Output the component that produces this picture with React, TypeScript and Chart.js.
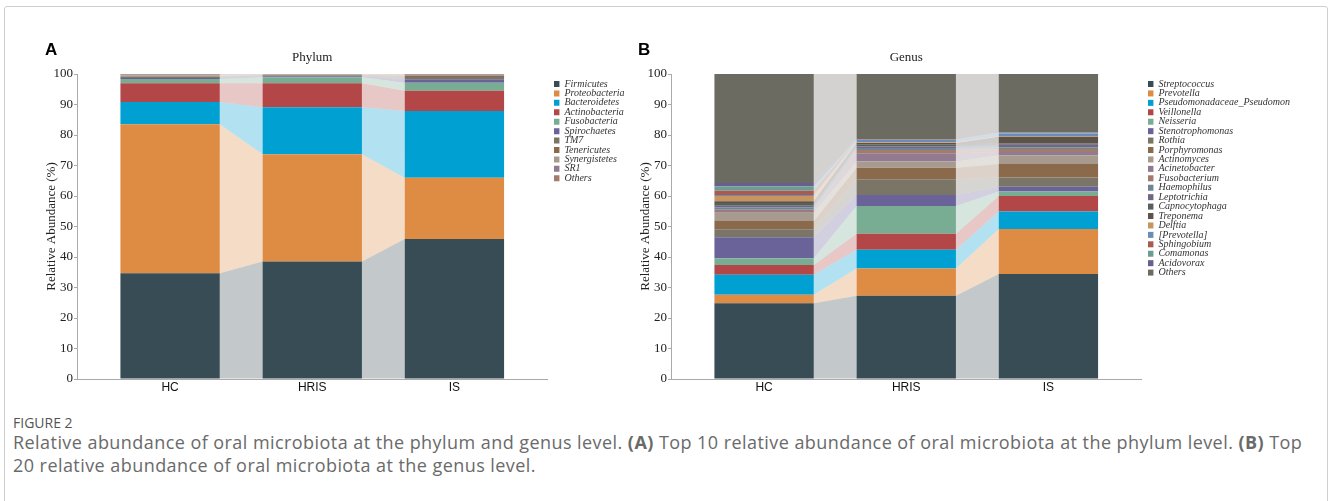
import React, { useEffect, useRef } from 'react';
import { Chart, registerables } from 'chart.js';

Chart.register(...registerables);

const groups = ['HC', 'HRIS', 'IS'];
const yTickValues = [0, 10, 20, 30, 40, 50, 60, 70, 80, 90, 100];

const phylumNames = ['Firmicutes', 'Proteobacteria', 'Bacteroidetes', 'Actinobacteria', 'Fusobacteria', 'Spirochaetes', 'TM7', 'Tenericutes', 'Synergistetes', 'SR1', 'Others'];
const phylumHC = [34.7, 48.8, 7.3, 6.2, 1.4, 0.3, 0.4, 0.2, 0.3, 0.2, 0.2];
const phylumHRIS = [38.5, 35.2, 15.4, 7.9, 1.9, 0.4, 0.2, 0.2, 0.1, 0.1, 0.1];
const phylumIS = [45.9, 20.1, 21.9, 6.6, 2.6, 1.2, 0.7, 0.5, 0.2, 0.1, 0.2];
const phylumColors = ['#374c54', '#de8b43', '#00a0d3', '#b34747', '#78ad94', '#6a6399', '#7b7567', '#8b6a4c', '#a79b90', '#927b90', '#a47a68'];

const genusNames = ['Streptococcus', 'Prevotella', 'Pseudomonadaceae_Pseudomon', 'Veillonella', 'Neisseria', 'Stenotrophomonas', 'Rothia', 'Porphyromonas', 'Actinomyces', 'Acinetobacter', 'Fusobacterium', 'Haemophilus', 'Leptotrichia', 'Capnocytophaga', 'Treponema', 'Delftia', '[Prevotella]', 'Sphingobium', 'Comamonas', 'Acidovorax', 'Others'];
const genusHC = [24.8, 2.8, 6.6, 3.2, 2.2, 6.9, 2.6, 2.7, 2.7, 0.6, 0.4, 0.8, 0.5, 0.9, 0.6, 1.7, 0.3, 1.4, 1.5, 1.1, 35.7];
const genusHRIS = [27.3, 8.9, 6.2, 5.2, 9.1, 3.6, 5.2, 3.8, 2.0, 2.7, 1.1, 0.6, 0.5, 0.8, 0.4, 0.2, 0.8, 0.05, 0.05, 0.05, 21.45];
const genusIS = [34.4, 14.8, 5.7, 5.1, 1.5, 1.5, 3.1, 4.4, 2.9, 1.0, 1.0, 0.6, 0.8, 0.4, 2.2, 0.2, 0.9, 0.1, 0.1, 0.2, 19.1];
const genusColors = ['#374c54', '#de8b43', '#00a0d3', '#b34747', '#78ad94', '#6a6399', '#7b7567', '#8b6a4c', '#a79b90', '#927b90', '#a47a68', '#6d8595', '#716684', '#58605e', '#5e5348', '#c8955f', '#6b8cb8', '#a95b50', '#6e9c95', '#665f8f', '#6c6b62'];

function hexToRgba(hex: string, a: number) {
  const n = parseInt(hex.slice(1), 16);
  return `rgba(${(n >> 16) & 255},${(n >> 8) & 255},${n & 255},${a})`;
}

const ribbonPlugin = {
  id: 'ribbons',
  beforeDatasetsDraw(chart: any) {
    const ctx = chart.ctx;
    ctx.save();
    chart.data.datasets.forEach((ds: any, i: number) => {
      const meta = chart.getDatasetMeta(i);
      const els = meta.data;
      ctx.fillStyle = hexToRgba(ds.backgroundColor, 0.3);
      for (let j = 0; j < els.length - 1; j++) {
        const a = els[j].getProps(['x', 'y', 'base', 'width'], true);
        const b = els[j + 1].getProps(['x', 'y', 'base', 'width'], true);
        const ax = a.x + a.width / 2;
        const bx = b.x - b.width / 2;
        ctx.beginPath();
        ctx.moveTo(ax, a.y);
        ctx.lineTo(bx, b.y);
        ctx.lineTo(bx, b.base);
        ctx.lineTo(ax, a.base);
        ctx.closePath();
        ctx.fill();
      }
    });
    ctx.restore();
  },
};

const PLOT_RIGHT = 547.5;
const LEGEND_GAP = 6.5;

function buildChart(canvas: HTMLCanvasElement, canvasW: number, title: string, names: string[], colors: string[], values: number[][]) {
  const datasets = names.map((name, i) => ({
    label: name,
    data: values.map((arr, j) => ({ x: j, y: arr[i] })),
    backgroundColor: colors[i],
    borderWidth: 0,
    barPercentage: 0.699,
    categoryPercentage: 1,
  }));
  return new Chart(canvas, {
    type: 'bar',
    data: { datasets } as any,
    plugins: [ribbonPlugin],
    options: {
      responsive: false,
      animation: false,
      devicePixelRatio: 1,
      layout: { padding: { left: 44, top: 0, right: 0, bottom: 0 } },
      scales: {
        x: {
          type: 'linear',
          stacked: true,
          min: -0.655,
          max: 2.655,
          offset: false,
          afterBuildTicks: (s: any) => { s.ticks = groups.map((_, i) => ({ value: i })); },
          ticks: {
            callback: (v: any) => groups[v] ?? '',
            color: '#111',
            padding: 1,
            maxRotation: 0,
            autoSkip: false,
            font: { family: 'Liberation Sans', size: 12 },
          },
          grid: { display: false, drawTicks: false },
          border: { display: true, color: '#aaa', width: 1 },
          afterFit: (s: any) => { s.height = 21; },
        },
        y: {
          type: 'linear',
          stacked: true,
          min: 0,
          max: 100,
          afterBuildTicks: (s: any) => { s.ticks = yTickValues.map((v) => ({ value: v })); },
          ticks: { color: '#222', padding: 1, font: { family: 'Liberation Serif', size: 13 } },
          grid: { display: true, drawOnChartArea: false, drawTicks: true, tickLength: 3, color: '#aaa' },
          border: { display: true, color: '#aaa', width: 1 },
          title: { display: true, text: 'Relative Abundance (%)', color: '#222', padding: 0, font: { family: 'Liberation Serif', size: 13 } },
          afterFit: (s: any) => { s.width = 33; },
        },
        gap: {
          type: 'linear',
          position: 'right',
          display: true,
          weight: 0,
          grid: { display: false, drawTicks: false },
          border: { display: false },
          ticks: { display: false },
          afterFit: (s: any) => { s.width = LEGEND_GAP; },
        },
        filler: {
          type: 'linear',
          position: 'right',
          display: true,
          weight: 2000,
          grid: { display: false, drawTicks: false },
          border: { display: false },
          ticks: { display: false },
          afterFit: (s: any) => {
            const lw = s.chart.legend ? s.chart.legend.width : 0;
            s.width = Math.max(0, canvasW - PLOT_RIGHT - LEGEND_GAP - lw);
          },
        },
      } as any,
      plugins: {
        tooltip: { enabled: false },
        title: {
          display: true,
          text: title,
          fullSize: false,
          color: '#222',
          font: { family: 'Liberation Serif', size: 13, weight: 'normal', lineHeight: 1.2 },
          padding: { top: 49.7, bottom: 8.7 },
        },
        legend: {
          position: 'right',
          align: 'start',
          fullSize: false,
          maxWidth: 1000,
          title: { display: true, text: '', padding: { top: 4.57, bottom: 0 }, font: { size: 1, lineHeight: 1 } },
          labels: {
            boxWidth: 6,
            boxHeight: 6,
            padding: -0.57,
            color: '#333',
            font: { family: 'Liberation Serif', style: 'italic', size: 10 },
          },
        },
      } as any,
    },
  });
}

function Panel(props: { left: number; width: number; title: string; names: string[]; colors: string[]; values: number[][] }) {
  const ref = useRef<HTMLCanvasElement | null>(null);
  useEffect(() => {
    if (!ref.current) return;
    const chart = buildChart(ref.current, props.width, props.title, props.names, props.colors, props.values);
    return () => chart.destroy();
  }, []);
  return (
    <canvas
      ref={ref}
      width={props.width}
      height={400}
      style={{ position: 'absolute', left: props.left, top: 0, width: props.width, height: 400 }}
    />
  );
}

export default function App() {
  return (
    <div style={{ position: 'absolute', left: 0, top: 0, width: 1328, height: 501, overflow: 'hidden', background: '#fff' }}>
      <div style={{ position: 'absolute', left: 4, top: 6, width: 1324, height: 520, border: '1px solid #cfcfcf', borderRadius: 3, boxSizing: 'border-box' }} />
      <Panel left={0} width={700} title="Phylum" names={phylumNames} colors={phylumColors} values={[phylumHC, phylumHRIS, phylumIS]} />
      <Panel left={594} width={734} title="Genus" names={genusNames} colors={genusColors} values={[genusHC, genusHRIS, genusIS]} />
      <div style={{ position: 'absolute', left: 45, top: 41, fontFamily: 'Liberation Sans', fontWeight: 'bold', fontSize: 17, lineHeight: '17px', color: '#000' }}>A</div>
      <div style={{ position: 'absolute', left: 638, top: 41, fontFamily: 'Liberation Sans', fontWeight: 'bold', fontSize: 17, lineHeight: '17px', color: '#000' }}>B</div>
      <div style={{ position: 'absolute', left: 13, top: 415, fontFamily: 'Open Sans', fontSize: 14, lineHeight: '16px', color: '#555' }}>FIGURE 2</div>
      <div style={{ position: 'absolute', left: 13, top: 430.5, fontFamily: 'Open Sans', fontSize: 18, letterSpacing: '0.44px', lineHeight: '23px', color: '#6a6a6a', whiteSpace: 'nowrap' }}>
        Relative abundance of oral microbiota at the phylum and genus level. <b>(A)</b> Top 10 relative abundance of oral microbiota at the phylum level. <b>(B)</b> Top
        <br />
        20 relative abundance of oral microbiota at the genus level.
      </div>
    </div>
  );
}
